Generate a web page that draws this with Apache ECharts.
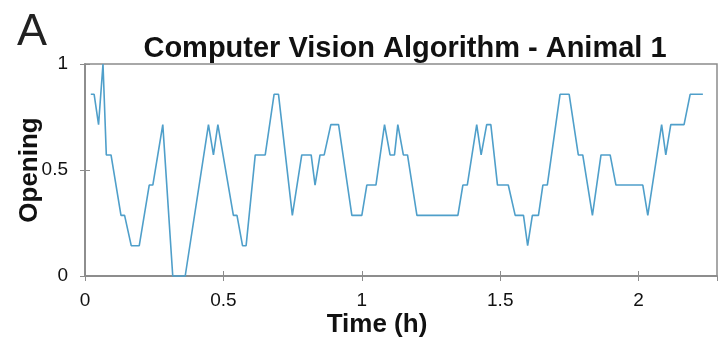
<!DOCTYPE html>
<html>
<head>
<meta charset="utf-8">
<script src="https://cdn.jsdelivr.net/npm/echarts@6/dist/echarts.min.js"></script>
<style>
html,body{margin:0;padding:0;background:#fff;}
#chart{width:718px;height:343px;}
</style>
</head>
<body>
<div id="chart"></div>
<script>
// Time (hours) and opening values
const times = [0.021,0.033,0.049,0.065,0.077,0.094,0.130,0.143,0.167,0.196,0.232,0.245,0.281,0.317,0.362,0.446,0.464,0.480,0.536,0.549,0.569,0.582,0.615,0.651,0.683,0.699,0.749,0.783,0.817,0.831,0.849,0.864,0.888,0.916,0.964,1.000,1.018,1.051,1.082,1.102,1.118,1.130,1.150,1.165,1.199,1.347,1.365,1.381,1.415,1.431,1.451,1.466,1.490,1.529,1.554,1.584,1.599,1.616,1.638,1.654,1.670,1.716,1.749,1.782,1.798,1.833,1.864,1.897,1.918,2.015,2.033,2.083,2.098,2.116,2.164,2.186,2.232];
const openings = [0.857,0.857,0.714,1.000,0.571,0.571,0.286,0.286,0.143,0.143,0.429,0.429,0.714,0,0,0.714,0.571,0.714,0.286,0.286,0.143,0.143,0.571,0.571,0.857,0.857,0.286,0.571,0.571,0.429,0.571,0.571,0.714,0.714,0.286,0.286,0.429,0.429,0.714,0.571,0.571,0.714,0.571,0.571,0.286,0.286,0.429,0.429,0.714,0.571,0.714,0.714,0.429,0.429,0.286,0.286,0.143,0.286,0.286,0.429,0.429,0.857,0.857,0.571,0.571,0.286,0.571,0.571,0.429,0.429,0.286,0.714,0.571,0.714,0.714,0.857,0.857];
const xTickLabels = ['0','0.5','1','1.5','2'];
const yTickLabels = ['0','0.5','1'];
const titleText = 'Computer Vision Algorithm - Animal 1';
const panelLabel = 'A';
const xName = 'Time (h)';
const yName = 'Opening';

const seriesData = times.map((t, i) => [t, openings[i]]);
const FONT = 'Liberation Sans, Arial, sans-serif';
const AXC = '#8c8c8c';

const chart = echarts.init(document.getElementById('chart'), null, {renderer: 'canvas'});
chart.setOption({
  animation: false,
  backgroundColor: '#fff',
  title: [
    {text: titleText, left: 400, top: 29, textAlign: 'center',
     textStyle: {fontFamily: FONT, fontSize: 29, fontWeight: 'bold', color: '#111'}},
    {text: panelLabel, left: 12, top: 5,
     textStyle: {fontFamily: FONT, fontSize: 45, fontWeight: 'normal', color: '#222'}}
  ],
  grid: {left: 85, right: 1, top: 64, bottom: 67, containLabel: false, outerBoundsMode: 'none',
         show: true, borderColor: AXC, borderWidth: 1.5},
  xAxis: [
    {type: 'value', min: 0, max: 2.283, interval: 0.5, position: 'bottom',
     name: xName, nameLocation: 'middle', nameGap: 36, nameMoveOverlap: false,
     nameTextStyle: {fontFamily: FONT, fontSize: 26, fontWeight: 'bold', color: '#111', padding: [0, 48, 0, 0]},
     axisLine: {show: true, lineStyle: {color: AXC, width: 1.5}},
     axisTick: {show: true, inside: true, length: 5, lineStyle: {color: AXC}},
     splitLine: {show: false},
     axisLabel: {show: true, showMaxLabel: false, margin: 15, fontFamily: FONT, fontSize: 19, color: '#111',
       formatter: v => { const i = Math.round(v / 0.5); return (Math.abs(v - i * 0.5) < 1e-6 && i < xTickLabels.length) ? xTickLabels[i] : ''; }}},
    {type: 'value', min: 0, max: 2.283, interval: 0.5, position: 'top',
     axisLine: {show: true, lineStyle: {color: AXC, width: 1.5}},
     axisTick: {show: true, inside: true, length: 5, lineStyle: {color: AXC}},
     axisLabel: {show: false}, splitLine: {show: false}}
  ],
  yAxis: [
    {type: 'value', min: 0, max: 1, interval: 0.5, position: 'left',
     name: yName, nameLocation: 'middle', nameGap: 42, nameRotate: 90, nameMoveOverlap: false,
     nameTextStyle: {fontFamily: FONT, fontSize: 26, fontWeight: 'bold', color: '#111'},
     axisLine: {show: true, lineStyle: {color: AXC, width: 1.5}},
     axisTick: {show: true, inside: true, length: 5, lineStyle: {color: AXC}},
     splitLine: {show: false},
     axisLabel: {show: true, margin: 17, fontFamily: FONT, fontSize: 19, color: '#111',
       formatter: v => { const i = Math.round(v / 0.5); return yTickLabels[i] !== undefined ? yTickLabels[i] : ''; }}},
    {type: 'value', min: 0, max: 1, interval: 0.5, position: 'right',
     axisLine: {show: true, lineStyle: {color: AXC, width: 1.5}},
     axisTick: {show: true, inside: true, length: 5, lineStyle: {color: AXC}},
     axisLabel: {show: false}, splitLine: {show: false}}
  ],
  series: [{
    type: 'line', data: seriesData, xAxisIndex: 0, yAxisIndex: 0,
    showSymbol: false, symbol: 'none',
    lineStyle: {color: '#4f9fca', width: 1.6},
    clip: false
  }]
});
</script>
</body>
</html>
